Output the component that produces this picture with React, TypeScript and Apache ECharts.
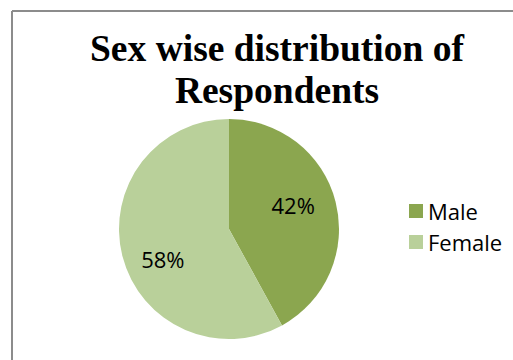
import React, { useEffect, useRef } from "react";
import * as echarts from "echarts";

const categories = ["Male", "Female"];
const values = [42, 58];
const colors = ["#8ba64f", "#b9d09a"];
const titleLines = ["Sex wise distribution of", "Respondents"];

export default function App() {
  const ref = useRef<HTMLDivElement>(null);
  useEffect(() => {
    if (!ref.current) return;
    const chart = echarts.init(ref.current, null, { renderer: "svg" });
    const labelOffsets = [
      [8, -10],
      [-10, 16],
    ];
    chart.setOption({
      animation: false,
      backgroundColor: "#ffffff",
      title: {
        text: titleLines.join("\n"),
        left: 272,
        top: 22,
        textAlign: "center",
        textStyle: {
          fontFamily: "Liberation Serif",
          fontWeight: "bold",
          fontSize: 37.5,
          lineHeight: 42,
          color: "#000",
        },
      },
      legend: {
        orient: "vertical",
        left: 404,
        top: 195,
        itemWidth: 14,
        itemHeight: 14,
        itemGap: 9,
        icon: "rect",
        data: categories,
        textStyle: {
          fontFamily: "Open Sans",
          fontSize: 22,
          lineHeight: 22,
          color: "#000",
          padding: [0, 0, 0, 0],
        },
      },
      graphic: [
        {
          type: "line",
          shape: { x1: 12, y1: 11, x2: 513, y2: 11 },
          style: { stroke: "#8c8c8c", lineWidth: 2 },
        },
        {
          type: "line",
          shape: { x1: 12, y1: 11, x2: 12, y2: 360 },
          style: { stroke: "#8c8c8c", lineWidth: 2 },
        },
      ],
      series: [
        {
          type: "pie",
          center: [229, 229],
          radius: [0, 110],
          startAngle: 90,
          clockwise: true,
          avoidLabelOverlap: false,
          data: categories.map((c, i) => ({
            name: c,
            value: values[i],
            itemStyle: { color: colors[i] },
            label: { offset: labelOffsets[i] },
          })),
          label: {
            show: true,
            position: "inside",
            formatter: "{c}%",
            fontFamily: "Open Sans",
            fontSize: 22,
            color: "#000",
          },
          labelLine: { show: false },
          emphasis: { disabled: true },
        },
      ],
    });
    return () => chart.dispose();
  }, []);
  return (
    <div
      ref={ref}
      style={{ position: "fixed", left: 0, top: 0, width: 513, height: 360 }}
    />
  );
}
